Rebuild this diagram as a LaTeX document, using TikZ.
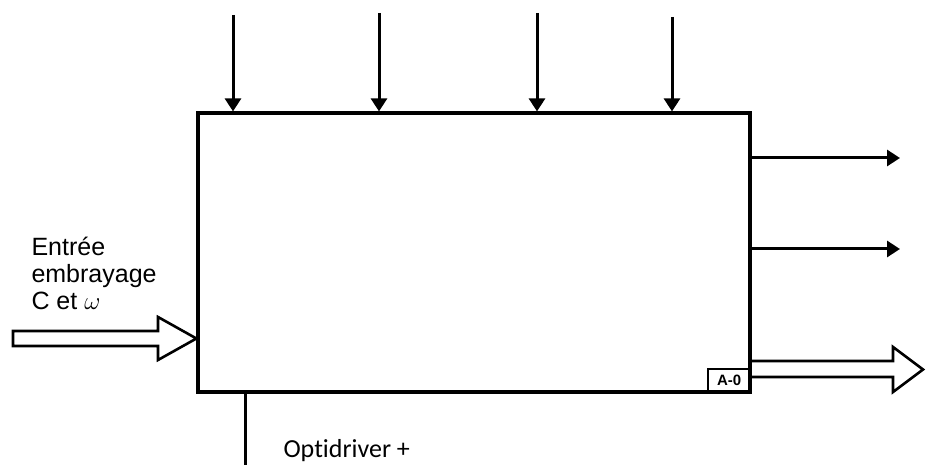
\documentclass[tikz,border=0pt]{standalone}
\usepackage{fontspec}
\setmainfont{Liberation Sans}
\newfontfamily\optifont[Ligatures=NoCommon]{Carlito}
\usetikzlibrary{arrows.meta}
\usetikzlibrary{positioning}

\begin{document}
\begin{tikzpicture}[
            x = 1pt, y = -1pt, % pixel grid of the sheet
            > = {Triangle[length=13pt,width=16pt]}, % arrow head style
            line width = 3pt
        ]

        \tikzstyle{bloc}=[
            draw,
            line width = 3.2pt,
            inner sep = 0pt,
            minimum width = 552pt,
            minimum height = 279pt
        ]
        \tikzstyle{flux}=[
            draw,
            line width = 2.6pt,
            line join = miter
        ]
        \tikzstyle{etiquette}=[
            font = \fontsize{25}{27}\selectfont,
            align = left,
            inner sep = 0pt
        ]

        \useasboundingbox (0,0) rectangle (927,465);

	% activity box
        \node[bloc] (A0) at (474,252.5) {};
        \node[draw, line width = 1.8pt, minimum width = 43pt, minimum height = 24pt,
              inner sep = 0pt, anchor = south east,
              font = \bfseries\fontsize{15}{15}\selectfont]
              (num) at (A0.south east) {A-0};

	% controls
        \coordinate (c1) at (233,15);
        \coordinate (c2) at (379,13);
        \coordinate (c3) at (537,13);
        \coordinate (c4) at (672,17);
        \foreach \c in {c1,c2,c3,c4}
            \draw[->] (\c) -- (\c |- A0.north);

	% outputs
        \coordinate (s1) at (900,158);
        \coordinate (s2) at (900,249);
        \draw[->] (A0.east |- s1) -- (s1);
        \draw[->] (A0.east |- s2) -- (s2);

	% input: clutch
        \coordinate (e0) at (13,338.5);
        \draw[flux] (e0) ++(0,-7.5) -- ++(145,0) -- ++(0,-14) -- (A0.west |- e0)
            -- (158,360) -- (158,346) -- (13,346) -- cycle;
        \node[etiquette, anchor = north west] (entree) at (30,235.5)
            {Entrée\\embrayage\\C et $\omega$};

	% main output
        \draw[flux] (A0.east |- 0,361) -- (893,361) -- (893,347) -- (923,369.5)
            -- (893,392) -- (893,377) -- (A0.east |- 0,377);

	% mechanism
        \coordinate (m0) at (245,465);
        \draw (A0.south -| m0) -- (m0);
        \node[anchor = base west, inner sep = 0pt, font = \optifont\fontsize{26}{26}\selectfont]
            (opti) at (282,457) {Optidriver +};

\end{tikzpicture}
\end{document}
